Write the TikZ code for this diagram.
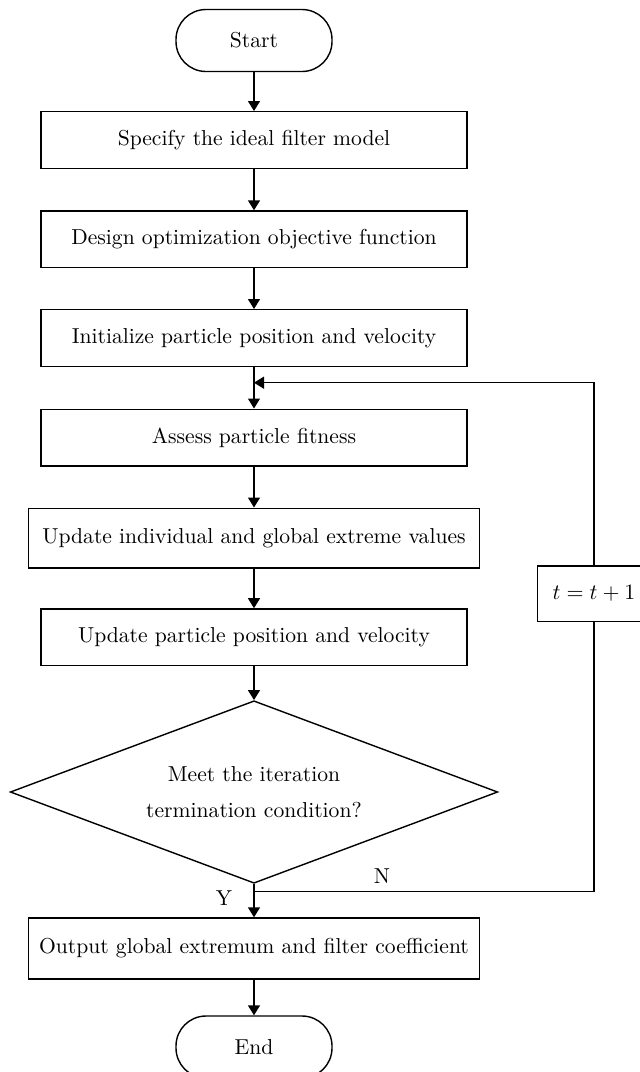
\documentclass[tikz,border=0pt]{standalone}
\usetikzlibrary{shapes.geometric,arrows.meta}
\begin{document}
\begin{tikzpicture}[x=0.5pt,y=-0.5pt,
  line width=0.7pt,
  every node/.style={font=\fontsize{10.8}{13}\selectfont},
  arr/.style={-{Triangle[width=6pt,length=5pt]}},
  stepbox/.style={draw,rectangle,minimum width=212.85pt,minimum height=28.3pt,inner sep=0pt},
  widebox/.style={draw,rectangle,minimum width=225.5pt,minimum height=29.8pt,inner sep=0pt},
  term/.style={draw,rectangle,rounded corners=15pt,minimum width=78pt,minimum height=31pt,inner sep=0pt},
  decision/.style={draw,diamond,aspect=2.67,minimum width=243.75pt,minimum height=91.25pt,inner sep=0pt,align=center},
  lbl/.style={inner sep=0pt}]
\useasboundingbox (0,0) rectangle (639,1072);
\node[term] (start) at (254,40.5) {Start};
\node[stepbox] (s1) at (254,140) {Specify the ideal filter model};
\node[stepbox] (s2) at (254,239.3) {Design optimization objective function};
\node[stepbox] (s3) at (254,338) {Initialize particle position and velocity};
\node[stepbox] (s4) at (254,437.5) {Assess particle fitness};
\node[widebox] (s5) at (254,538) {Update individual and global extreme values};
\node[stepbox] (s6) at (254,637.2) {Update particle position and velocity};
\node[decision] (dec) at (254,792) {Meet the iteration\\[5.3pt]termination condition?};
\node[widebox,minimum height=30.5pt] (out) at (254,948.5) {Output global extremum and filter coefficient};
\node[term] (endn) at (254,1047) {End};
\node[draw,rectangle,minimum width=56.3pt,minimum height=27.85pt,inner sep=0pt] (inc) at (594,593.8) {$t=t+1$};
\coordinate (nsplit) at (254,891.7);
\coordinate (ncorner) at (594,891.7);
\coordinate (tcorner) at (594,382.7);
\coordinate (merge) at (254,382.7);
\node[lbl] (ylab) at (224,898) {Y};
\node[lbl] (nlab) at (382,876) {N};
\draw[arr] (start) -- (s1);
\draw[arr] (s1) -- (s2);
\draw[arr] (s2) -- (s3);
\draw[arr] (s3) -- (s4);
\draw[arr] (s4) -- (s5);
\draw[arr] (s5) -- (s6);
\draw[arr] (s6) -- (dec.north);
\draw[arr] (dec.south) -- (out);
\draw[arr] (out) -- (endn);
\draw (nsplit) -- (ncorner) -- (inc.south);
\draw[arr] (inc.north) -- (tcorner) -- (merge);
\end{tikzpicture}
\end{document}
